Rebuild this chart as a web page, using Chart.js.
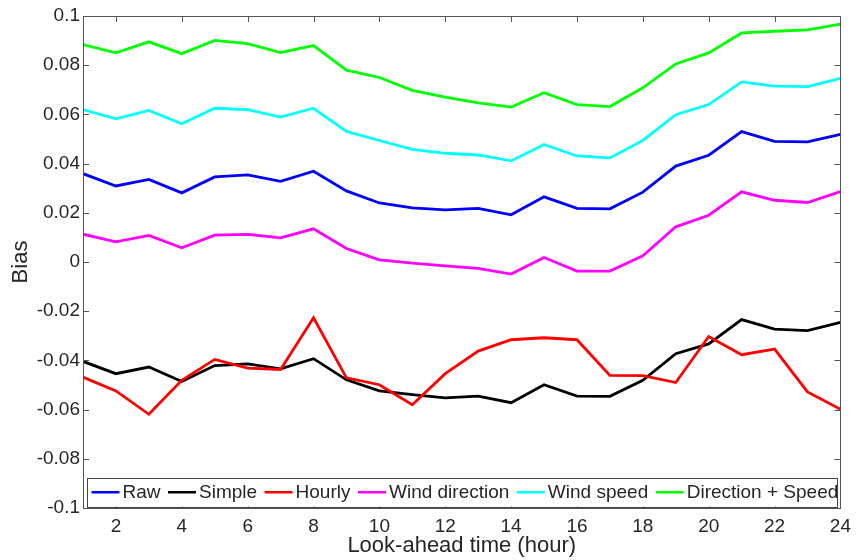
<!DOCTYPE html>
<html>
<head>
<meta charset="utf-8">
<script src="https://cdn.jsdelivr.net/npm/chart.js@4/dist/chart.umd.min.js"></script>
<style>
  body { margin: 0; background: #fff; }
  canvas { display: block; }
</style>
</head>
<body>
<canvas id="biasChart" width="858" height="560"></canvas>
<script>
// look-ahead hours and bias per correction method
const hours = [1, 2, 3, 4, 5, 6, 7, 8, 9, 10, 11, 12, 13, 14, 15, 16, 17, 18, 19, 20, 21, 22, 23, 24];

const raw = [0.0359, 0.0309, 0.0336, 0.0281, 0.0346, 0.0354, 0.0328, 0.0369, 0.0289, 0.0240, 0.0220, 0.0212,
             0.0218, 0.0192, 0.0265, 0.0218, 0.0216, 0.0284, 0.0390, 0.0434, 0.0530, 0.0490, 0.0488, 0.0519];
const simple = [-0.0404, -0.0454, -0.0427, -0.0486, -0.0421, -0.0414, -0.0434, -0.0393, -0.0479, -0.0524, -0.0539, -0.0552,
                -0.0545, -0.0572, -0.0499, -0.0545, -0.0546, -0.0481, -0.0373, -0.0333, -0.0234, -0.0273, -0.0279, -0.0245];
const hourly = [-0.0468, -0.0524, -0.0619, -0.0481, -0.0396, -0.0431, -0.0437, -0.0227, -0.0471, -0.0499, -0.0580, -0.0454,
                -0.0362, -0.0316, -0.0308, -0.0316, -0.0461, -0.0462, -0.0490, -0.0303, -0.0377, -0.0354, -0.0528, -0.0599];
const windDir = [0.0113, 0.0082, 0.0108, 0.0058, 0.0109, 0.0112, 0.0098, 0.0135, 0.0055, 0.0009, -0.0005, -0.0016,
                 -0.0026, -0.0049, 0.0018, -0.0037, -0.0037, 0.0025, 0.0143, 0.0190, 0.0285, 0.0251, 0.0242, 0.0286];
const windSpeed = [0.0620, 0.0582, 0.0616, 0.0562, 0.0625, 0.0619, 0.0589, 0.0625, 0.0531, 0.0494, 0.0458, 0.0442,
                   0.0435, 0.0411, 0.0478, 0.0431, 0.0423, 0.0494, 0.0599, 0.0640, 0.0732, 0.0715, 0.0713, 0.0746];
const dirSpeed = [0.0884, 0.0850, 0.0895, 0.0847, 0.0901, 0.0888, 0.0851, 0.0880, 0.0780, 0.0750, 0.0698, 0.0670,
                  0.0647, 0.0630, 0.0688, 0.0640, 0.0632, 0.0708, 0.0805, 0.0850, 0.0931, 0.0938, 0.0944, 0.0967];

const seriesNames = ["Raw", "Simple", "Hourly", "Wind direction", "Wind speed", "Direction + Speed"];
const seriesColors = ["#0000ff", "#000000", "#ff0000", "#ff00ff", "#00ffff", "#00ff00"];
const seriesValues = [raw, simple, hourly, windDir, windSpeed, dirSpeed];

const xTicks = [2, 4, 6, 8, 10, 12, 14, 16, 18, 20, 22, 24];
const yTicks = [-0.1, -0.08, -0.06, -0.04, -0.02, 0, 0.02, 0.04, 0.06, 0.08, 0.1];

const textColor = "#262626";
const axisColor = "#555555";
const fontFamily = "'Liberation Sans', Arial, sans-serif";

// box around the plot with inward ticks on all four sides
const frameTicks = {
  id: "frameTicks",
  afterDatasetsDraw(chart) {
    const ctx = chart.ctx;
    const a = chart.chartArea;
    const xs = chart.scales.x, ys = chart.scales.y;
    const len = 6;
    ctx.save();
    ctx.strokeStyle = axisColor;
    ctx.lineWidth = 1;
    ctx.beginPath();
    for (let i = 0; i < xTicks.length; i++) {
      let px = Math.round(xs.getPixelForValue(xTicks[i])) + 0.5;
      ctx.moveTo(px, a.bottom); ctx.lineTo(px, a.bottom - len);
      ctx.moveTo(px, a.top); ctx.lineTo(px, a.top + len);
    }
    for (let i = 0; i < yTicks.length; i++) {
      let py = Math.round(ys.getPixelForValue(yTicks[i])) + 0.5;
      ctx.moveTo(a.left, py); ctx.lineTo(a.left + len, py);
      ctx.moveTo(a.right, py); ctx.lineTo(a.right - len, py);
    }
    ctx.stroke();
    ctx.strokeRect(Math.round(a.left) + 0.5, Math.round(a.top) + 0.5,
                   Math.round(a.right - a.left), Math.round(a.bottom - a.top));
    ctx.restore();
  }
};

// one-row legend sitting inside the bottom of the plot
const insideLegend = {
  id: "insideLegend",
  afterDraw(chart) {
    const ctx = chart.ctx;
    const a = chart.chartArea;
    const boxL = a.left + 3.5, boxR = a.right - 4, boxT = a.bottom - 30, boxB = a.bottom - 1.5;
    const midY = (boxT + boxB) / 2;
    ctx.save();
    ctx.fillStyle = "#fff";
    ctx.fillRect(boxL, boxT, boxR - boxL, boxB - boxT);
    ctx.strokeStyle = "#444";
    ctx.lineWidth = 1;
    ctx.strokeRect(Math.round(boxL) + 0.5, Math.round(boxT) + 0.5, Math.round(boxR - boxL), Math.round(boxB - boxT));
    ctx.font = "19px " + fontFamily;
    ctx.textBaseline = "middle";
    let x = boxL + 5;
    const ds = chart.data.datasets;
    for (let i = 0; i < ds.length; i++) {
      ctx.strokeStyle = ds[i].borderColor;
      ctx.lineWidth = 2.5;
      ctx.beginPath();
      ctx.moveTo(x, midY); ctx.lineTo(x + 28, midY);
      ctx.stroke();
      x += 31;
      ctx.fillStyle = textColor;
      ctx.fillText(ds[i].label, x, midY + 1);
      x += ctx.measureText(ds[i].label).width + 7.5;
    }
    ctx.restore();
  }
};

const datasets = [];
for (let i = 0; i < seriesNames.length; i++) {
  datasets.push({
    label: seriesNames[i],
    data: seriesValues[i],
    borderColor: seriesColors[i],
    backgroundColor: seriesColors[i],
    borderWidth: 2.8,
    pointRadius: 0,
    tension: 0,
    fill: false,
    order: seriesNames.length - i
  });
}

new Chart(document.getElementById("biasChart"), {
  type: "line",
  data: { labels: hours, datasets: datasets },
  options: {
    responsive: false,
    animation: false,
    layout: { padding: { top: 16, right: 11, left: 0, bottom: 0 } },
    plugins: { legend: { display: false }, tooltip: { enabled: false } },
    scales: {
      x: {
        type: "linear",
        min: 1,
        max: 24,
        afterBuildTicks: s => { s.ticks = xTicks.map(v => ({ value: v })); },
        afterFit: s => { s.height = 52; },
        grid: { display: false, drawTicks: false },
        border: { display: false },
        ticks: { color: textColor, font: { size: 19, family: fontFamily }, padding: 7, maxRotation: 0 },
        title: {
          display: true, text: "Look-ahead time (hour)", color: textColor,
          font: { size: 22, family: fontFamily }, padding: { top: 0, bottom: 1 }
        }
      },
      y: {
        min: -0.1,
        max: 0.1,
        afterBuildTicks: s => { s.ticks = yTicks.map(v => ({ value: v })); },
        afterFit: s => { s.width = 83; },
        grid: { display: false, drawTicks: false },
        border: { display: false },
        ticks: {
          color: textColor, font: { size: 19, family: fontFamily }, padding: 3,
          callback: v => String(Number(v.toFixed(2)))
        },
        title: {
          display: true, text: "Bias", color: textColor,
          font: { size: 22, family: fontFamily }, padding: { top: 8, bottom: 0 }
        }
      }
    }
  },
  plugins: [frameTicks, insideLegend]
});
</script>
</body>
</html>
